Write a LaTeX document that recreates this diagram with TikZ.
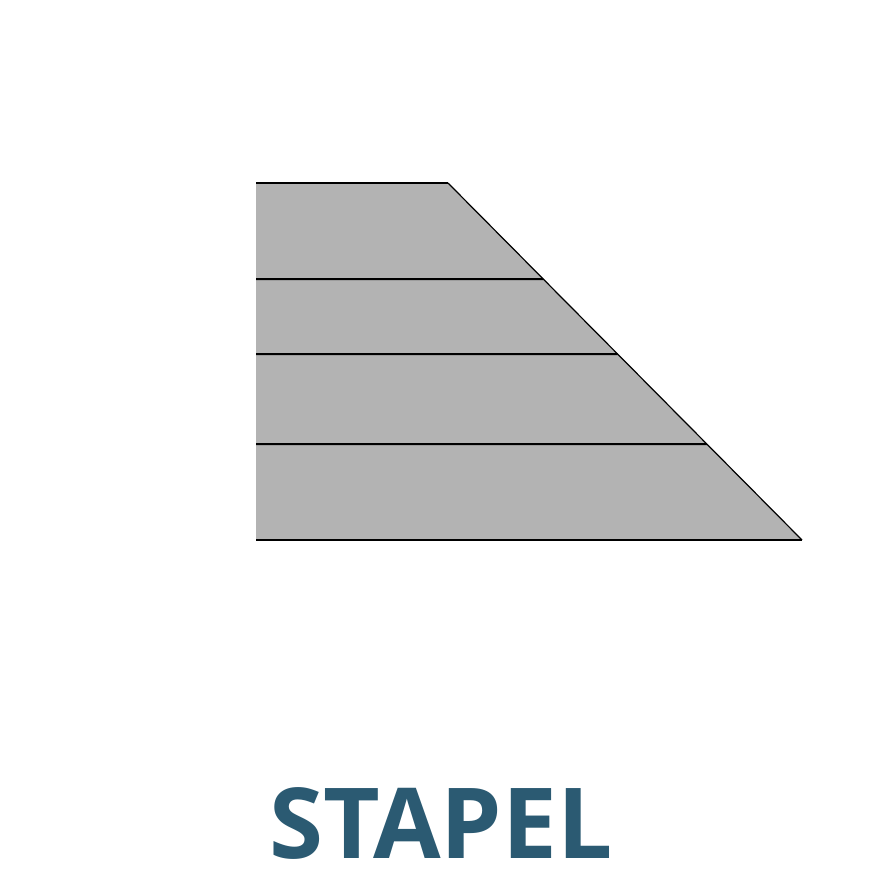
\documentclass[tikz,border=0pt]{standalone}
\usepackage{fontspec}
\setsansfont{Open Sans}
\usepackage{xcolor}
\usepackage{tikz}
\usetikzlibrary{calc,positioning}
\definecolor{stapelblue}{HTML}{2B5A72}
\definecolor{stapelgray}{HTML}{B3B3B3}

\begin{document}
\begin{tikzpicture}[x=1pt,y=-1pt,
  layer/.style={line width=2pt},
  slant/.style={line width=1.2pt},
  title/.style={font=\fontsize{98}{98}\selectfont\sffamily\bfseries,text=stapelblue,inner sep=0pt}]
  \useasboundingbox (0,0) rectangle (880,880);

  \coordinate (tl) at (256,183);
  \coordinate (tr) at (448,183);
  \coordinate (br) at (802,540);
  \coordinate (bl) at (256,540);

  \fill[stapelgray] (tl) -- (tr) -- (br) -- (bl) -- cycle;
  \draw[slant] (tr) -- (br);
  \draw[layer] (tl) -- (tr);
  \foreach \y/\n in {279/a,354/b,444/c}
    \draw[layer] (256,\y) coordinate (l\n) -- ($(tr)!{(\y-183)/357}!(br)$) coordinate (r\n);
  \draw[layer] (bl) -- (br);

  \node[title,anchor=base] (name) at (441,858) {STAPEL};
\end{tikzpicture}
\end{document}
